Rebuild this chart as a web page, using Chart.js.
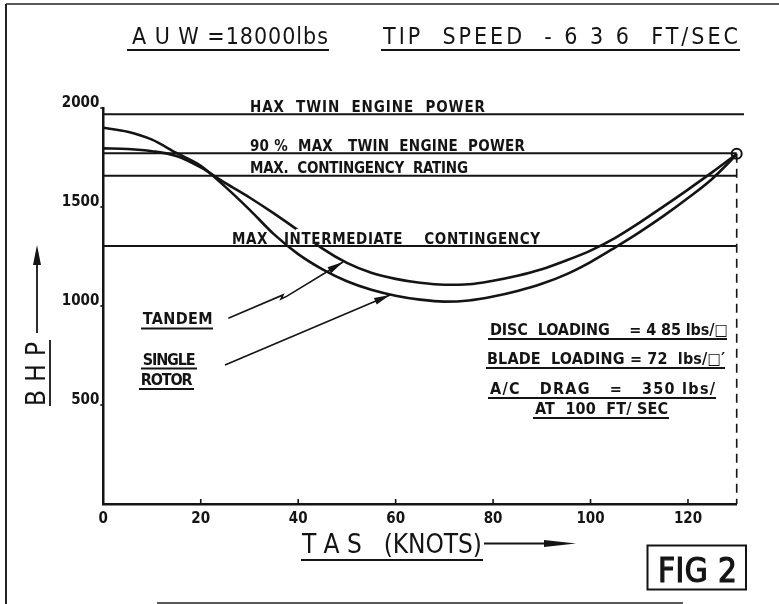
<!DOCTYPE html>
<html><head><meta charset="utf-8">
<script src="https://cdn.jsdelivr.net/npm/chart.js@4.4.1/dist/chart.umd.min.js"></script>
<style>html,body{margin:0;padding:0;background:#fff;overflow:hidden}#wrap{position:relative;width:779px;height:604px}</style>
</head><body><div id="wrap"><canvas id="c" width="779" height="604"></canvas></div>
<script>
// ---- data ----
const knots       = [0,5,10,15,20,25,30,35,40,45,50,55,60,65,70,75,80,85,90,95,100,105,110,115,120,125,130];
const singleRotor = [1900,1880,1840,1773,1708,1603,1487,1363,1262,1185,1125,1082,1052,1032,1022,1028,1048,1076,1112,1160,1222,1295,1372,1455,1545,1643,1765];
const tandem      = [1796,1793,1782,1758,1700,1622,1548,1468,1382,1290,1218,1168,1137,1117,1107,1110,1128,1153,1186,1230,1280,1343,1420,1503,1588,1676,1768];
const xTicks = [0,20,40,60,80,100,120];
const yTicks = [500,1000,1500,2000];
const limitNames  = ['HAX  TWIN  ENGINE  POWER','90 %  MAX   TWIN  ENGINE  POWER','MAX.  CONTINGENCY  RATING','MAX   INTERMEDIATE    CONTINGENCY'];
const limitValues = [1968,1771,1658,1303];
const limitEnds   = [131.5,130,130,130];
const limitLabelStart = [30.1,30.1,30.1,26.4];
const designSpeed = 130;
const designPower = 1769;
const tandemArrowX = [25.66,36.88,36.47,37.7,49.2];
const tandemArrowY = [938,1056,1035,1050,1222];
const singleArrowX = [24.98,58.85];
const singleArrowY = [702,1056];

const INK = '#141414';
const COND = '"DejaVu Sans Condensed","DejaVu Sans",sans-serif';

function pts(xs, ys){ return xs.map((x,i)=>({x:x, y:ys[i]})); }

const datasets = [
  {label:'Single rotor', data: pts(knots, singleRotor), borderColor:INK, borderWidth:2.6, pointRadius:0, cubicInterpolationMode:'monotone'},
  {label:'Tandem', data: pts(knots, tandem), borderColor:INK, borderWidth:2.6, pointRadius:0, cubicInterpolationMode:'monotone'},
];
limitValues.forEach((v,i)=>{
  datasets.push({label:limitNames[i], data:[{x:0,y:v},{x:limitEnds[i],y:v}], borderColor:INK, borderWidth:2, pointRadius:0, clip:false});
});
datasets.push({label:'design', data:[{x:designSpeed,y:designPower},{x:designSpeed,y:0}], borderColor:INK, borderWidth:1.6, borderDash:[9,6], pointRadius:0, clip:false});
datasets.push({label:'tandemArrow', data: pts(tandemArrowX, tandemArrowY), borderColor:INK, borderWidth:1.6, pointRadius:0, tension:0});
datasets.push({label:'singleArrow', data: pts(singleArrowX, singleArrowY), borderColor:INK, borderWidth:1.6, pointRadius:0, tension:0});
datasets.push({label:'point', data:[{x:designSpeed,y:designPower}], showLine:false, pointRadius:5, pointBackgroundColor:'#fff', pointBorderColor:INK, pointBorderWidth:2, clip:false});

function fitText(ctx, str, x, base, width, font, stroke){
  ctx.font = font; ctx.letterSpacing = '0px';
  const w = ctx.measureText(str).width;
  const ls = (width - w) / Math.max(1, str.length - 1);
  ctx.letterSpacing = ls + 'px';
  ctx.fillText(str, x, base);
  if (stroke) { ctx.lineWidth = stroke; ctx.strokeText(str, x, base); }
  ctx.letterSpacing = '0px';
}
function hline(ctx, x1, x2, y, w){ ctx.lineWidth = w||1.8; ctx.beginPath(); ctx.moveTo(x1,y); ctx.lineTo(x2,y); ctx.stroke(); }
function arrowHead(ctx, x0,y0,x1,y1,len,half){
  const a = Math.atan2(y1-y0, x1-x0);
  ctx.beginPath();
  ctx.moveTo(x1,y1);
  ctx.lineTo(x1 - len*Math.cos(a) + half*Math.sin(a), y1 - len*Math.sin(a) - half*Math.cos(a));
  ctx.lineTo(x1 - len*Math.cos(a) - half*Math.sin(a), y1 - len*Math.sin(a) + half*Math.cos(a));
  ctx.closePath(); ctx.fill();
}

const deco = {
  id:'deco',
  afterDraw(chart){
    const ctx = chart.ctx, xs = chart.scales.x, ys = chart.scales.y;
    ctx.save();
    ctx.fillStyle = INK; ctx.strokeStyle = INK; ctx.textAlign = 'left'; ctx.textBaseline = 'alphabetic';
    // axis ticks
    ctx.lineWidth = 1.6;
    xTicks.forEach(v=>{ if(v===0) return; const px = xs.getPixelForValue(v); ctx.beginPath(); ctx.moveTo(px, ys.bottom); ctx.lineTo(px, ys.bottom-5); ctx.stroke(); });
    yTicks.forEach(v=>{ const py = ys.getPixelForValue(v); ctx.beginPath(); ctx.moveTo(xs.left, py); ctx.lineTo(xs.left-3, py); ctx.stroke(); });
    // the lettering of the lowest limit line breaks the tandem curve
    const lp = ys.getPixelForValue(limitValues[3]);
    ctx.fillStyle = '#fff';
    ctx.fillRect(xs.getPixelForValue(39.5), lp-17, xs.getPixelForValue(63)-xs.getPixelForValue(39.5), 14.5);
    ctx.fillStyle = INK;
    // labels on the limit lines
    const lw = [235, 275, 218, 308];
    limitNames.forEach((n,i)=>{
      const x = xs.getPixelForValue(limitLabelStart[i]);
      const y = ys.getPixelForValue(limitValues[i]) - 2.5;
      fitText(ctx, n, x, y, lw[i], 'bold 15px '+COND);
    });
    // arrowheads
    const tn = tandemArrowX.length;
    arrowHead(ctx, xs.getPixelForValue(tandemArrowX[tn-2]), ys.getPixelForValue(tandemArrowY[tn-2]), xs.getPixelForValue(tandemArrowX[tn-1]), ys.getPixelForValue(tandemArrowY[tn-1]), 16, 3.5);
    arrowHead(ctx, xs.getPixelForValue(singleArrowX[0]), ys.getPixelForValue(singleArrowY[0]), xs.getPixelForValue(singleArrowX[1]), ys.getPixelForValue(singleArrowY[1]), 16, 3.5);
    // curve labels
    const lf = 'bold 16px '+COND;
    fitText(ctx, 'TANDEM', 142.7, 324, 70, lf); hline(ctx, 141, 213, 328.5, 2);
    fitText(ctx, 'SINGLE', 142.7, 364.5, 53, lf); hline(ctx, 141, 197, 368.5, 2);
    fitText(ctx, 'ROTOR', 140.7, 385, 52, lf); hline(ctx, 139, 194, 389, 2);
    // notes
    fitText(ctx, 'DISC  LOADING    = 4 85 lbs/\u25A1', 490, 334.5, 238, lf); hline(ctx, 488, 727, 339, 2);
    fitText(ctx, 'BLADE  LOADING = 72  lbs/\u25A1\u2032', 487, 363.5, 238, lf); hline(ctx, 486, 725, 368, 2);
    fitText(ctx, 'A/C   DRAG   =   350 lbs/', 490, 393.5, 225, lf); hline(ctx, 488, 716, 398, 2);
    fitText(ctx, 'AT  100  FT/ SEC', 535, 414, 133, lf); hline(ctx, 533, 669, 418, 2);
    // title
    const tf = 'normal 23px '+COND;
    fitText(ctx, 'A U W =18000lbs', 132, 43.5, 196, tf); hline(ctx, 127, 329, 50, 1.8);
    fitText(ctx, 'TIP  SPEED  - 6 3 6  FT/SEC', 383, 43.5, 355, tf); hline(ctx, 381, 740, 50, 1.8);
    // x title
    fitText(ctx, 'T A S   (KNOTS)', 302, 553, 180, 'normal 26px '+COND); hline(ctx, 301, 483, 560, 1.8);
    hline(ctx, 484, 548, 543.5, 1.8);
    arrowHead(ctx, 484, 543.5, 576, 543.5, 32, 3.5);
    // y title (rotated)
    ctx.save(); ctx.translate(45, 406); ctx.rotate(-Math.PI/2);
    fitText(ctx, 'B H P', 0, 0, 64, 'normal 26px '+COND);
    ctx.restore();
    ctx.lineWidth = 1.8; ctx.beginPath(); ctx.moveTo(50, 406); ctx.lineTo(50, 340); ctx.stroke();
    ctx.beginPath(); ctx.moveTo(37, 333); ctx.lineTo(37, 262); ctx.stroke();
    arrowHead(ctx, 37, 333, 37, 245, 20, 4);
    // FIG 2
    ctx.lineWidth = 2; ctx.strokeRect(647.5, 545.5, 98.5, 44);
    fitText(ctx, 'FIG 2', 658, 581.5, 79, 'normal 33px '+COND, 1.2);
    // page edges
    ctx.strokeStyle = '#222';
    ctx.lineWidth = 2; ctx.beginPath(); ctx.moveTo(6, 4); ctx.lineTo(6, 604); ctx.stroke();
    ctx.lineWidth = 1.4; ctx.beginPath(); ctx.moveTo(6, 4); ctx.lineTo(779, 4); ctx.stroke();
    ctx.beginPath(); ctx.moveTo(157, 603); ctx.lineTo(683, 603); ctx.stroke();
    ctx.restore();
  }
};

new Chart(document.getElementById('c'), {
  type:'line',
  data:{datasets},
  options:{
    responsive:false, animation:false, devicePixelRatio:1,
    layout:{padding:{left:0, right:42.3, top:108, bottom:0}},
    plugins:{legend:{display:false}, tooltip:{enabled:false}},
    scales:{
      x:{type:'linear', min:0, max:130,
        afterBuildTicks:s=>{ s.ticks = xTicks.map(v=>({value:v})); },
        afterFit:s=>{ s.height = 100; },
        grid:{display:false, drawTicks:false},
        border:{display:true, color:INK, width:2.5},
        ticks:{color:INK, padding:6, maxRotation:0, callback:v=>String(v), font:{family:COND, weight:'bold', size:15}}},
      y:{type:'linear', min:0, max:2000,
        afterBuildTicks:s=>{ s.ticks = yTicks.map(v=>({value:v})); },
        afterFit:s=>{ s.width = 103.3; },
        grid:{display:false, drawTicks:false},
        border:{display:true, color:INK, width:2.5},
        ticks:{color:INK, padding:4, labelOffset:-5, callback:v=>String(v), font:{family:COND, weight:'bold', size:15}}}
    }
  },
  plugins:[deco]
});
</script></body></html>
